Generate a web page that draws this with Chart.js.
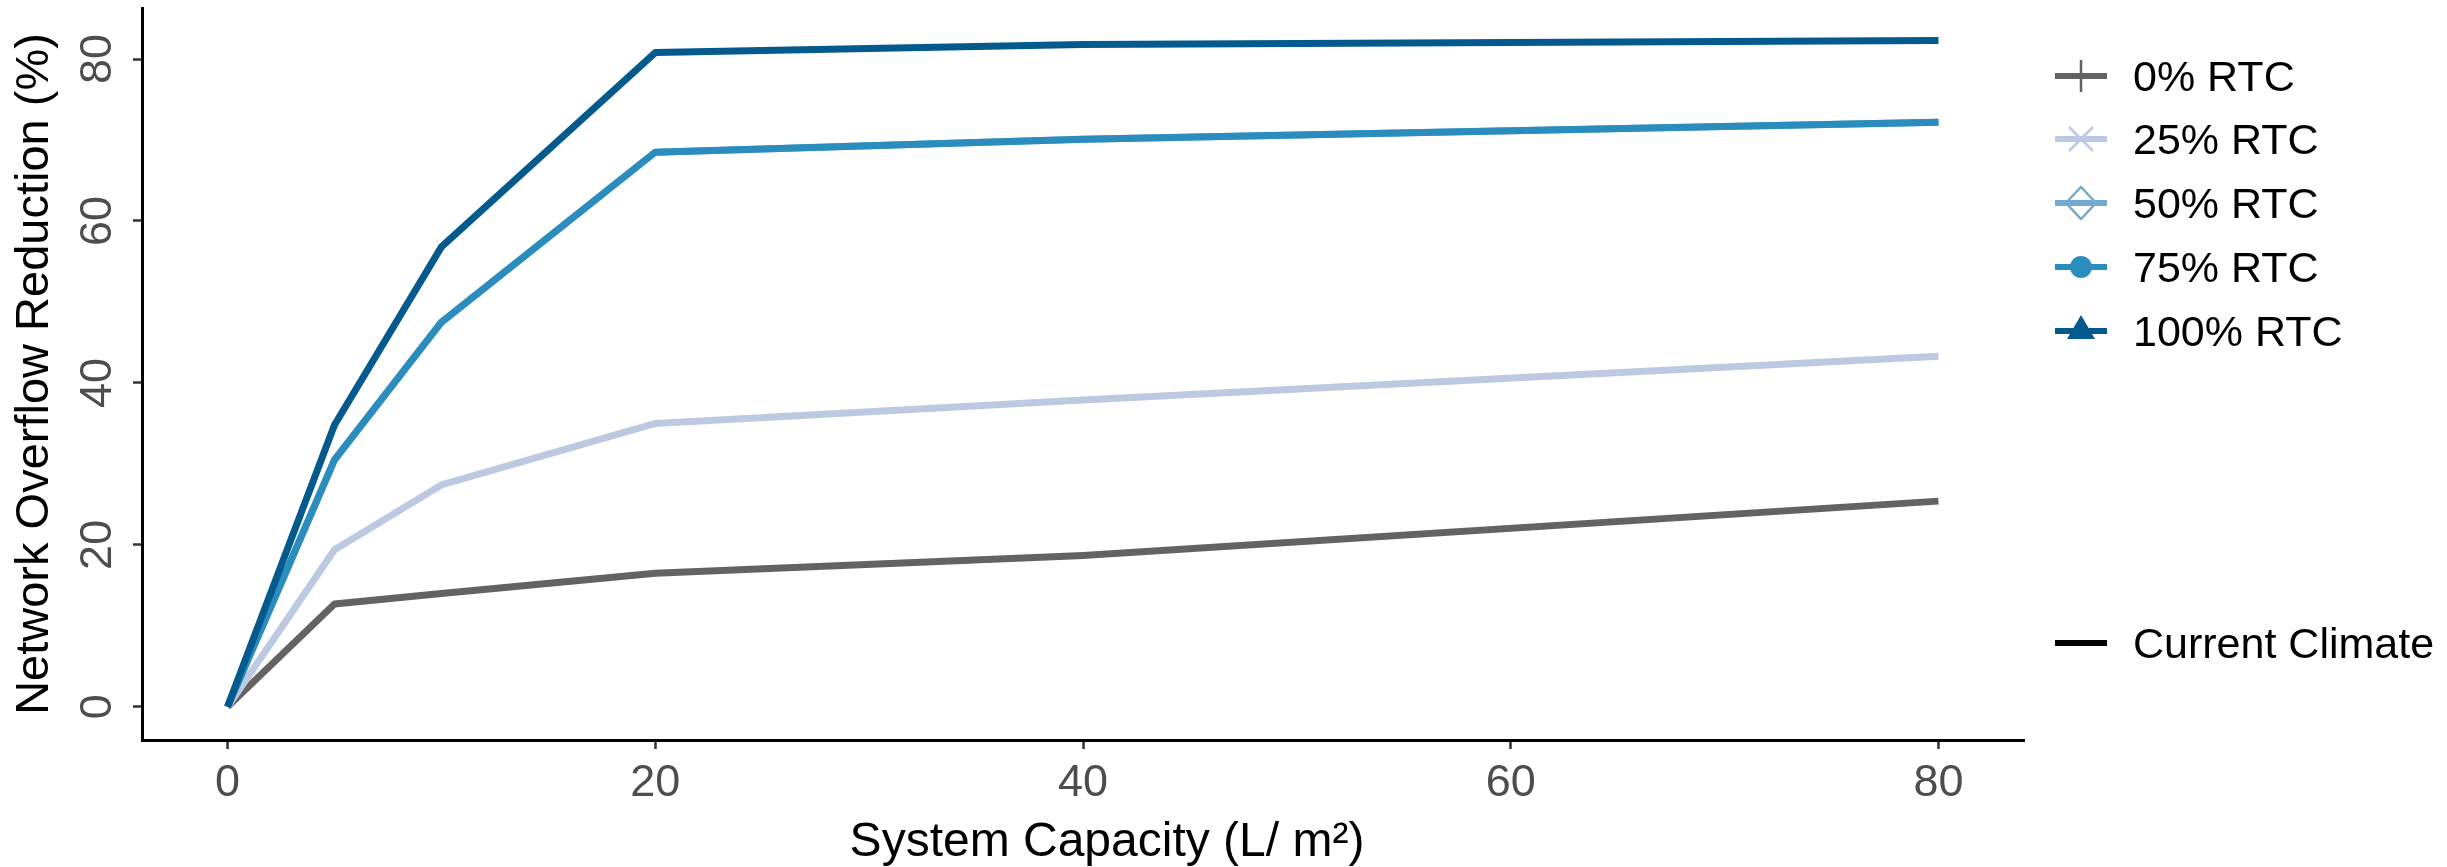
<!DOCTYPE html>
<html>
<head>
<meta charset="utf-8">
<script src="https://cdn.jsdelivr.net/npm/chart.js@4.4.1/dist/chart.umd.min.js"></script>
<style>
  html, body { margin: 0; padding: 0; background: #fff; }
  #wrap { position: relative; width: 2447px; height: 867px; }
  #legend { position: absolute; left: 2055px; top: 0; font-family: "Liberation Sans", Arial, sans-serif; font-size: 43px; color: #000; }
  .key { position: absolute; left: 0; display: flex; align-items: center; height: 40px; white-space: nowrap; }
  .key svg { width: 52px; height: 40px; flex: none; }
  .key span { margin-left: 26px; }
</style>
</head>
<body>
<div id="wrap">
  <canvas id="chart" width="2447" height="867"></canvas>
  <div id="legend"></div>
</div>
<script>
// system capacity (L/m2) and overflow reduction (%) per RTC level
const capacity = [0, 5, 10, 20, 40, 80];
const rtc0   = [0, 12.7, 14.0, 16.5, 18.7, 25.4];
const rtc25  = [0, 19.4, 27.4, 35.0, 37.9, 43.3];
const rtc50  = [0, 30.5, 47.5, 68.5, 70.1, 72.2];
const rtc75  = [0, 30.5, 47.5, 68.5, 70.1, 72.2];
const rtc100 = [0, 34.8, 56.8, 80.8, 81.8, 82.3];

const seriesNames = ["0% RTC", "25% RTC", "50% RTC", "75% RTC", "100% RTC"];
const climateName = "Current Climate";
const xTicks = [0, 20, 40, 60, 80];
const yTicks = [0, 20, 40, 60, 80];

const seriesValues = [rtc0, rtc25, rtc50, rtc75, rtc100];
const seriesColors = ["#636363", "#bdc9e1", "#74a9cf", "#2b8cbe", "#045a8d"];
const markers = ["plus", "cross", "diamond", "circle", "triangle"];
const fam = '"Liberation Sans", Arial, sans-serif';

Chart.defaults.font.family = fam;

// chart.js draws dataset 0 on top, so reverse to keep 100% RTC on top
const datasets = seriesNames.map((name, i) => ({
  label: name,
  data: capacity.map((x, j) => ({ x: x, y: seriesValues[i][j] })),
  borderColor: seriesColors[i],
  backgroundColor: seriesColors[i]
})).reverse();

// no auto padding from tick labels, the panel is placed by hand
function noPad(s) {
  s.paddingTop = 0;
  s.paddingBottom = 0;
  s.paddingLeft = 0;
  s.paddingRight = 0;
}

new Chart(document.getElementById("chart"), {
  type: "line",
  data: { datasets },
  options: {
    responsive: false,
    animation: false,
    devicePixelRatio: 1,
    layout: { autoPadding: false, padding: { top: 8, right: 423, bottom: 0, left: 0 } },
    plugins: { legend: { display: false }, tooltip: { enabled: false } },
    elements: {
      point: { radius: 0 },
      line: { tension: 0, borderWidth: 7, borderJoinStyle: "round", borderCapStyle: "butt" }
    },
    scales: {
      x: {
        type: "linear",
        min: -4,
        max: 84,
        afterBuildTicks: s => { s.ticks = xTicks.map(v => ({ value: v })); },
        afterFit: s => { s.height = 127; noPad(s); },
        ticks: { color: "#4d4d4d", font: { size: 45 }, padding: 8, autoSkip: false, maxRotation: 0 },
        grid: { drawOnChartArea: false, tickLength: 9, tickColor: "#333", tickWidth: 2.5 },
        border: { color: "#000", width: 3 },
        title: { display: true, text: "\u2002\u2002System Capacity (L/ m²)", color: "#000",
                 font: { size: 48, lineHeight: 1 }, padding: { top: 0, bottom: 0 } }
      },
      y: {
        type: "linear",
        min: -4.1,
        max: 86.3,
        afterBuildTicks: s => { s.ticks = yTicks.map(v => ({ value: v })); },
        afterFit: s => { s.width = 142; noPad(s); },
        ticks: { color: "#4d4d4d", font: { size: 45 }, padding: 9, minRotation: 90, maxRotation: 90, crossAlign: "center" },
        grid: { drawOnChartArea: false, tickLength: 9, tickColor: "#333", tickWidth: 2.5 },
        border: { color: "#000", width: 3 },
        title: { display: true, text: "Network Overflow Reduction (%)", color: "#000",
                 font: { size: 47, lineHeight: 1 }, padding: { top: 12, bottom: 0 } }
      }
    }
  }
});

// legend keys: line with the ggplot-like shape on it
function keySvg(color, marker) {
  let m = "";
  if (marker === "plus") m = `<line x1="26" y1="4" x2="26" y2="36" stroke="${color}" stroke-width="2.5"/>`;
  if (marker === "cross") m = `<line x1="14" y1="8" x2="38" y2="32" stroke="${color}" stroke-width="2.5"/><line x1="14" y1="32" x2="38" y2="8" stroke="${color}" stroke-width="2.5"/>`;
  if (marker === "diamond") m = `<polygon points="26,4 41,20 26,36 11,20" fill="none" stroke="${color}" stroke-width="2.5"/>`;
  if (marker === "circle") m = `<circle cx="26" cy="20" r="11" fill="${color}"/>`;
  if (marker === "triangle") m = `<polygon points="26,4 40,28 12,28" fill="${color}"/>`;
  return `<svg viewBox="0 0 52 40"><line x1="0" y1="20" x2="52" y2="20" stroke="${color}" stroke-width="6"/>${m}</svg>`;
}

const legend = document.getElementById("legend");
const rowCenters = [76, 139, 203, 267, 331];
seriesNames.forEach((name, i) => {
  const row = document.createElement("div");
  row.className = "key";
  row.style.top = (rowCenters[i] - 20) + "px";
  row.innerHTML = keySvg(seriesColors[i], markers[i]) + `<span>${name}</span>`;
  legend.appendChild(row);
});

const climateRow = document.createElement("div");
climateRow.className = "key";
climateRow.style.top = (643 - 20) + "px";
climateRow.innerHTML = keySvg("#000", "none") + `<span>${climateName}</span>`;
legend.appendChild(climateRow);
</script>
</body>
</html>
